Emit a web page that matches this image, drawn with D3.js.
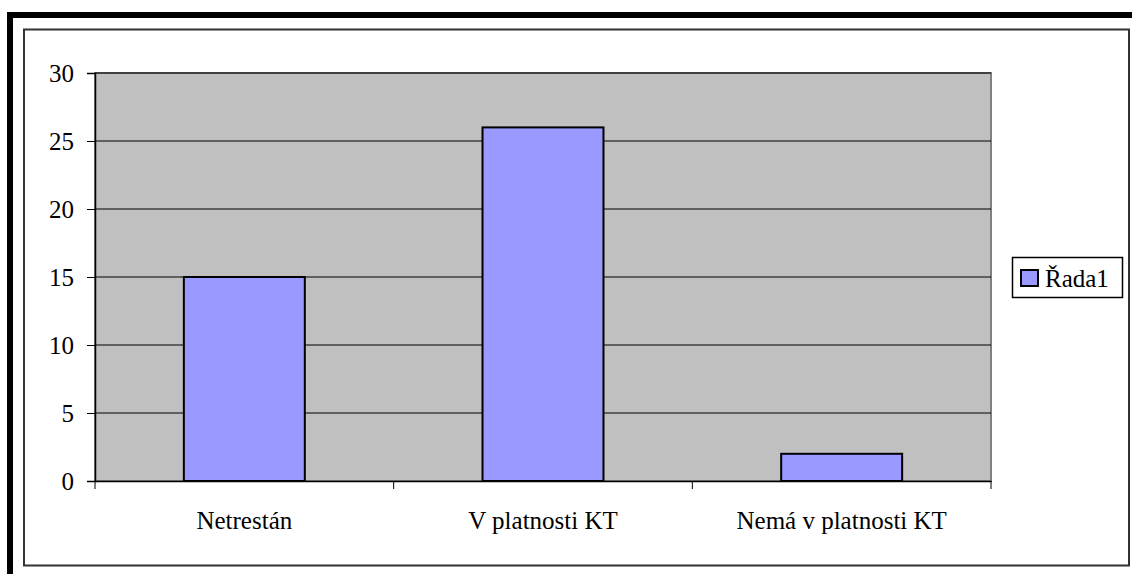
<!DOCTYPE html>
<html><head><meta charset="utf-8">
<script src="https://cdn.jsdelivr.net/npm/d3@7"></script>
<style>body{margin:0;background:#fff}svg{display:block}
svg text{font-family:"Liberation Serif","Times New Roman",Times,serif !important;fill:#000}</style>
</head><body>
<script>
const categories = ["Netrestán", "V platnosti KT", "Nemá v platnosti KT"];
const values = [15, 26, 2];
const yTicks = [0, 5, 10, 15, 20, 25, 30];
const seriesName = "Řada1";

const W = 1132, H = 574;
const svg = d3.select("body").append("svg").attr("width", W).attr("height", H);

// outer thick border (top & left)
svg.append("rect").attr("x", 7).attr("y", 12).attr("width", W - 7).attr("height", 6).attr("fill", "#000");
svg.append("rect").attr("x", 7).attr("y", 12).attr("width", 6).attr("height", H - 12).attr("fill", "#000");

// chart area border
svg.append("rect").attr("x", 24).attr("y", 29.5).attr("width", 1105).attr("height", 536)
  .attr("fill", "#fff").attr("stroke", "#333").attr("stroke-width", 2);

const L = 95, R = 991, T = 73, B = 481;
const x = d3.scaleBand().domain(categories).range([L, R]).paddingInner(0.595).paddingOuter(0.2975);
const xb = d3.scaleBand().domain(categories).range([L, R]);
const y = d3.scaleLinear().domain([0, 30]).range([B, T]);

svg.append("rect").attr("x", L).attr("y", T).attr("width", R - L).attr("height", B - T)
  .attr("fill", "#C0C0C0").attr("stroke", "#808080").attr("stroke-width", 2);

// gridlines
svg.append("g").selectAll("line").data(yTicks.filter(d => d > 0)).join("line")
  .attr("x1", L).attr("x2", R).attr("y1", d => y(d)).attr("y2", d => y(d))
  .attr("stroke", "#000").attr("stroke-width", 1);

// bars
svg.append("g").selectAll("rect").data(values).join("rect")
  .attr("x", (d, i) => x(categories[i]))
  .attr("y", d => y(d))
  .attr("width", x.bandwidth())
  .attr("height", d => B - y(d))
  .attr("fill", "#9999FF").attr("stroke", "#000").attr("stroke-width", 2);

// y axis
const yAxis = svg.append("g").attr("transform", `translate(${L},0)`)
  .call(d3.axisLeft(y).tickValues(yTicks).tickSize(8).tickPadding(13));
yAxis.select(".domain").attr("stroke", "#000").attr("stroke-width", 1.5);
yAxis.selectAll("text").style("font-size", "25px");

// x axis
const xAxis = svg.append("g").attr("transform", `translate(0,${B})`)
  .call(d3.axisBottom(xb).tickSize(0));
xAxis.select(".domain").attr("stroke", "#000").attr("stroke-width", 1.5);
xAxis.selectAll("text").style("font-size", "25px").attr("y", 48).attr("dy", "0");
const boundaries = [L, ...categories.map(c => xb(c) + xb.bandwidth())];
svg.append("g").selectAll("line").data(boundaries).join("line")
  .attr("x1", d => d).attr("x2", d => d).attr("y1", B).attr("y2", B + 8)
  .attr("stroke", "#000").attr("stroke-width", 1);

// legend
const lg = svg.append("g");
lg.append("rect").attr("x", 1012.5).attr("y", 257.5).attr("width", 110).attr("height", 40)
  .attr("fill", "#fff").attr("stroke", "#000").attr("stroke-width", 1.5);
lg.append("rect").attr("x", 1021).attr("y", 270).attr("width", 17).attr("height", 16)
  .attr("fill", "#9999FF").attr("stroke", "#000").attr("stroke-width", 2);
lg.append("text").attr("x", 1045).attr("y", 287).text(seriesName).style("font-size", "25px");
</script>
</body></html>
